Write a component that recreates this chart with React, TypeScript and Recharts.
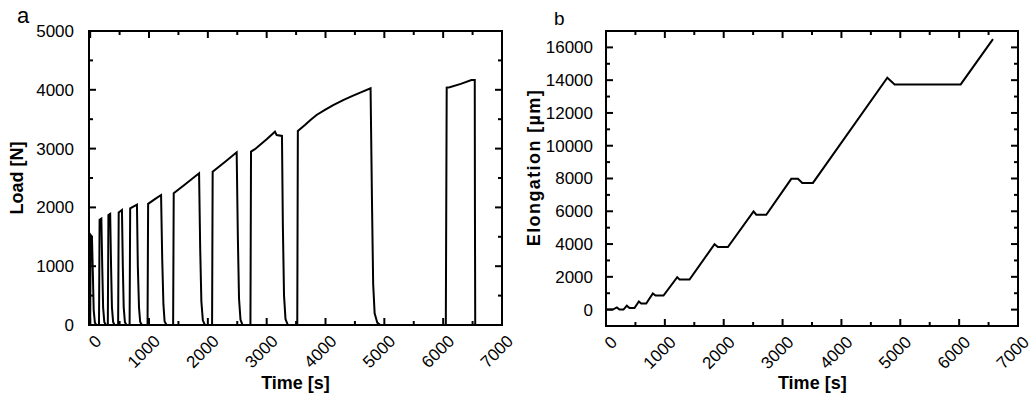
import React from 'react';
import { LineChart, Line, XAxis, YAxis, ReferenceArea } from 'recharts';

const FONT = '"Liberation Sans", Arial, Helvetica, sans-serif';

// Panel a: load vs time
const loadTime = [
  0, 8, 30, 45, 60, 80, 105,
  150, 160, 190, 205, 220, 240, 265,
  300, 310, 340, 355, 370, 390, 415,
  475, 485, 540, 555, 570, 590, 615,
  670, 680, 795, 810, 830, 850, 880,
  975, 985, 1100, 1205, 1225, 1245, 1265, 1300,
  1410, 1420, 1600, 1851, 1870, 1890, 1915, 1950,
  2072, 2082, 2300, 2490, 2510, 2530, 2555, 2590,
  2724, 2734, 2800, 3000, 3141, 3170, 3260, 3275, 3295, 3320, 3360,
  3520, 3530, 3650, 3750, 3848, 3990, 4131, 4300, 4450, 4600, 4766, 4790, 4810, 4835, 4880, 4930,
  6045, 6060, 6110, 6300, 6480, 6537, 6540, 6545,
];
const loadValue = [
  0, 1530, 1500, 900, 250, 40, 0,
  0, 1790, 1810, 1000, 300, 50, 0,
  0, 1870, 1890, 1000, 300, 50, 0,
  0, 1915, 1956, 1000, 300, 50, 0,
  0, 1985, 2046, 1000, 300, 50, 0,
  0, 2060, 2140, 2211, 1100, 350, 60, 0,
  0, 2240, 2380, 2580, 1300, 400, 80, 0,
  0, 2607, 2780, 2937, 1500, 450, 90, 0,
  0, 2948, 2990, 3160, 3288, 3230, 3215, 1700, 500, 100, 0,
  0, 3299, 3400, 3490, 3571, 3660, 3741, 3825, 3893, 3957, 4025, 2100, 700, 200, 40, 0,
  0, 4036, 4045, 4100, 4167, 4167, 2000, 0,
];

// Panel b: elongation vs time
const elongTime = [
  0, 116, 184, 229, 297, 354, 399, 484, 558, 598, 683, 796, 841, 977,
  1210, 1249, 1419, 1844, 1901, 2071, 2507, 2553, 2723, 3148, 3261, 3335,
  3516, 4780, 4904, 6026, 6575,
];
const elongValue = [
  0, 0, 130, 0, 0, 240, 100, 100, 500, 370, 370, 980, 860, 860,
  1980, 1840, 1840, 3990, 3820, 3820, 5990, 5790, 5790, 7980, 7980, 7730,
  7730, 14147, 13742, 13742, 16503,
];

const timeTicks = [0, 500, 1000, 1500, 2000, 2500, 3000, 3500, 4000, 4500, 5000, 5500, 6000, 6500, 7000];
const loadTicks = [0, 500, 1000, 1500, 2000, 2500, 3000, 3500, 4000, 4500, 5000];
const elongTicks = [0, 1000, 2000, 3000, 4000, 5000, 6000, 7000, 8000, 9000, 10000, 11000, 12000, 13000, 14000, 15000, 16000];

const loadData = loadTime.map((t, i) => ({ t, v: loadValue[i] }));
const elongData = elongTime.map((t, i) => ({ t, v: elongValue[i] }));

const MAJOR = 7;
const MINOR = 4;

function XTick(props: any) {
  const { x, y, payload, plotH, major } = props;
  const v = payload.value;
  const isMajor = v % major === 0;
  const len = isMajor ? MAJOR : MINOR;
  const ax = x + 8;
  const ay = y + 13;
  return (
    <g>
      <line x1={x} x2={x} y1={y} y2={y - len} stroke="#000" strokeWidth={2} />
      <line x1={x} x2={x} y1={y - plotH} y2={y - plotH + len} stroke="#000" strokeWidth={2} />
      {isMajor && (
        <text
          x={ax}
          y={ay}
          dy="0.35em"
          textAnchor="end"
          transform={`rotate(-45 ${ax} ${ay})`}
          fontFamily={FONT}
          fontSize={17}
          fill="#000"
        >
          {v}
        </text>
      )}
    </g>
  );
}

function YTick(props: any) {
  const { x, y, payload, plotW, major, gap } = props;
  const v = payload.value;
  const isMajor = v % major === 0;
  const len = isMajor ? MAJOR : MINOR;
  return (
    <g>
      <line x1={x} x2={x + len} y1={y} y2={y} stroke="#000" strokeWidth={2} />
      <line x1={x + plotW} x2={x + plotW - len} y1={y} y2={y} stroke="#000" strokeWidth={2} />
      {isMajor && (
        <text x={x - gap} y={y} dy="0.35em" textAnchor="end" fontFamily={FONT} fontSize={17} fill="#000">
          {v}
        </text>
      )}
    </g>
  );
}

function Panel(props: any) {
  const { data, xDomain, yDomain, yTicks, yMajor, width, height, margin, yAxisWidth, xAxisHeight, gap } = props;
  const plotW = width - margin.left - margin.right - yAxisWidth;
  const plotH = height - margin.top - margin.bottom - xAxisHeight;
  return (
    <LineChart width={width} height={height} data={data} margin={margin} style={{ overflow: 'visible' }}>
      <XAxis
        dataKey="t"
        type="number"
        domain={xDomain}
        ticks={timeTicks}
        interval={0}
        allowDataOverflow
        axisLine={false}
        tickLine={false}
        tickSize={0}
        tickMargin={0}
        height={xAxisHeight}
        tick={(p: any) => <XTick {...p} plotH={plotH} major={1000} />}
      />
      <YAxis
        type="number"
        domain={yDomain}
        ticks={yTicks}
        interval={0}
        allowDataOverflow
        axisLine={false}
        tickLine={false}
        tickSize={0}
        tickMargin={0}
        width={yAxisWidth}
        tick={(p: any) => <YTick {...p} plotW={plotW} major={yMajor} gap={gap} />}
      />
      <Line
        dataKey="v"
        type="linear"
        stroke="#000"
        strokeWidth={2}
        dot={false}
        activeDot={false}
        isAnimationActive={false}
      />
      <ReferenceArea
        x1={xDomain[0]}
        x2={xDomain[1]}
        y1={yDomain[0]}
        y2={yDomain[1]}
        fill="none"
        fillOpacity={0}
        stroke="#000"
        strokeWidth={2}
        ifOverflow="visible"
      />
    </LineChart>
  );
}

export default function App() {
  return (
    <div style={{ position: 'absolute', left: 0, top: 0, width: 1030, height: 398, background: '#fff', overflow: 'hidden' }}>
      <div style={{ position: 'absolute', left: 0, top: 0 }}>
        <Panel
          data={loadData}
          xDomain={[-20, 7000]}
          yDomain={[0, 5000]}
          yTicks={loadTicks}
          yMajor={1000}
          width={530}
          height={398}
          margin={{ top: 31, right: 28, bottom: 0, left: 0 }}
          yAxisWidth={89}
          xAxisHeight={73}
          gap={15}
        />
      </div>
      <div style={{ position: 'absolute', left: 515, top: 0 }}>
        <Panel
          data={elongData}
          xDomain={[0, 7000]}
          yDomain={[-1000, 17000]}
          yTicks={elongTicks}
          yMajor={2000}
          width={515}
          height={398}
          margin={{ top: 31, right: 12, bottom: 0, left: 0 }}
          yAxisWidth={91}
          xAxisHeight={72}
          gap={13}
        />
      </div>
      <svg
        width={1030}
        height={398}
        style={{ position: 'absolute', left: 0, top: 0, pointerEvents: 'none' }}
        fontFamily={FONT}
      >
        <text x={17} y={23} fontSize={22} fill="#000">a</text>
        <text x={554} y={25} fontSize={19} fill="#000">b</text>
        <text x={295.5} y={389} fontSize={18} fontWeight="bold" textAnchor="middle" fill="#000">Time [s]</text>
        <text x={812.3} y={389} fontSize={18} fontWeight="bold" textAnchor="middle" fill="#000">Time [s]</text>
        <text x={23} y={178} fontSize={18} fontWeight="bold" textAnchor="middle" transform="rotate(-90 23 178)" fill="#000">Load [N]</text>
        <text x={539.5} y={167.5} fontSize={18} fontWeight="bold" textAnchor="middle" letterSpacing={1.4} transform="rotate(-90 539.5 167.5)" fill="#000">Elongation [µm]</text>
      </svg>
    </div>
  );
}
